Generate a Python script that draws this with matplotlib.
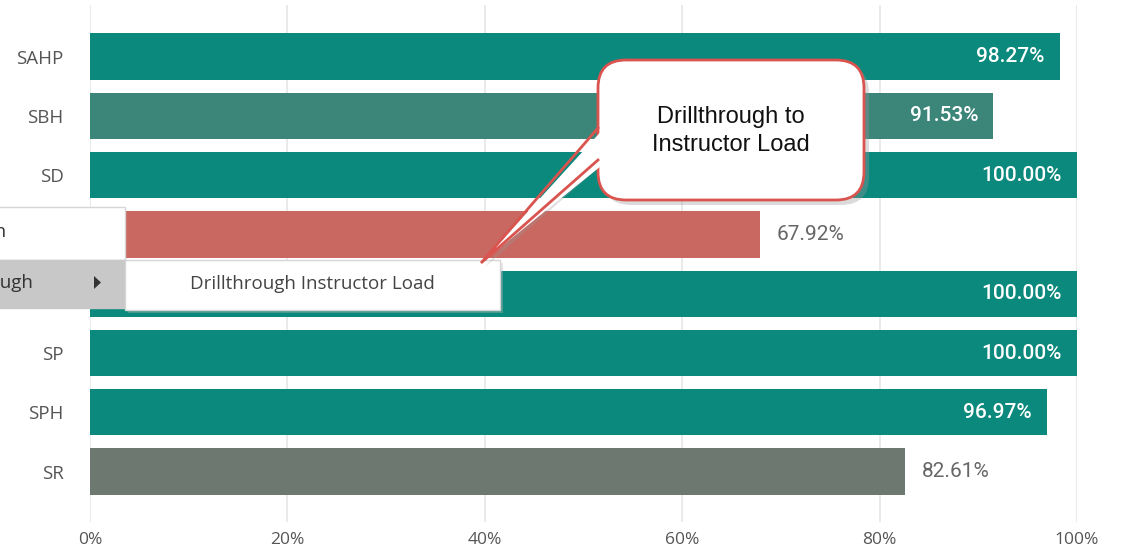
import matplotlib.pyplot as plt
from matplotlib.patches import FancyBboxPatch, Polygon, Rectangle

categories = ["SAHP", "SBH", "SD", "SE", "SN", "SP", "SPH", "SR"]
values = [98.27, 91.53, 100.00, 67.92, 100.00, 100.00, 96.97, 82.61]
colors = ["#0B897C", "#3B8579", "#0B897C", "#C96761", "#0B897C", "#0B897C", "#0B897C", "#6D7871"]
inside = [True, True, True, False, True, True, True, False]
xticks = [0, 20, 40, 60, 80, 100]

W, H = 1122, 547
fig = plt.figure(figsize=(W / 100, H / 100), dpi=100)
ax = fig.add_axes([90 / W, 25 / H, (1077 - 90) / W, (542 - 25) / H])

ypos = list(range(len(categories)))
ax.barh(ypos, values, height=0.78, color=colors, zorder=2)
ax.set_xlim(0, 100)
ax.set_ylim(len(categories) - 0.15, -0.87)
ax.set_xticks(xticks)
ax.set_xticklabels([f"{t}%" for t in xticks], fontfamily="Open Sans", fontsize=12.5, color="#555555")
ax.set_yticks(ypos)
ax.set_yticklabels(categories, fontfamily="Open Sans", fontsize=13.5, color="#555555")
ax.tick_params(axis="x", length=0, pad=7)
ax.tick_params(axis="y", length=0, pad=19)
ax.grid(axis="x", color="#E6E6E6", lw=1.2, zorder=0)
for s in ax.spines.values():
    s.set_visible(False)

for y, v, c, ins in zip(ypos, values, colors, inside):
    if ins:
        ax.annotate(f"{v:.2f}%", (v, y), xytext=(-11, 0), textcoords="offset points",
                    ha="right", va="center", color="white", fontfamily="Roboto",
                    fontweight="medium", fontsize=15, zorder=3)
    else:
        ax.annotate(f"{v:.2f}%", (v, y), xytext=(12, 0), textcoords="offset points",
                    ha="left", va="center", color="#666666", fontfamily="Roboto",
                    fontsize=15, zorder=3)

# overlay in pixel coordinates for the context menu and the callout
ov = fig.add_axes([0, 0, 1, 1], zorder=5)
ov.set_xlim(0, W)
ov.set_ylim(H, 0)
ov.axis("off")
ov.patch.set_alpha(0)

# context menu
ov.add_patch(Rectangle((-2, 207), 127, 53, facecolor="white", edgecolor="#D6D6D6", lw=1))
ov.add_patch(Rectangle((-2, 260), 127, 48, facecolor="#C8C8C8", edgecolor="#C8C8C8", lw=1))
ov.text(6, 232, "Drill down", ha="right", va="center", fontfamily="Open Sans", fontsize=13.5, color="#333333")
ov.text(33, 283, "Drillthrough", ha="right", va="center", fontfamily="Open Sans", fontsize=13.5, color="#333333")
ov.add_patch(Polygon([(94, 276), (94, 289), (101, 282.5)], closed=True, facecolor="#333333", edgecolor="none"))
ov.add_patch(Rectangle((128, 263), 375, 50, facecolor="#BBBBBB", edgecolor="none", alpha=0.35))
ov.add_patch(Rectangle((125, 260), 375, 50, facecolor="white", edgecolor="#D6D6D6", lw=1))
ov.text(312, 284, "Drillthrough Instructor Load", ha="center", va="center",
        fontfamily="Open Sans", fontsize=13.5, color="#444444")

# callout
red = "#D9534F"
ov.add_patch(FancyBboxPatch((603, 65), 266, 140, boxstyle="round,pad=0,rounding_size=28",
                            facecolor="#999999", edgecolor="none", alpha=0.35))
ov.add_patch(Polygon([(603, 132), (485, 267), (603, 164)], closed=True, facecolor="#999999",
                     edgecolor="none", alpha=0.3))
ov.add_patch(FancyBboxPatch((598, 60), 266, 140, boxstyle="round,pad=0,rounding_size=28",
                            facecolor="white", edgecolor=red, lw=2))
ov.add_patch(Polygon([(606, 126), (481, 263), (606, 162)], closed=True, facecolor="white", edgecolor="none"))
ov.plot([598, 481, 598], [128, 263, 160], color=red, lw=2, solid_joinstyle="miter")
ov.text(731, 131, "Drillthrough to\nInstructor Load", ha="center", va="center",
        fontfamily="Liberation Sans", fontsize=17, color="#111111", linespacing=1.3)

fig.savefig("out.png", dpi=100)
